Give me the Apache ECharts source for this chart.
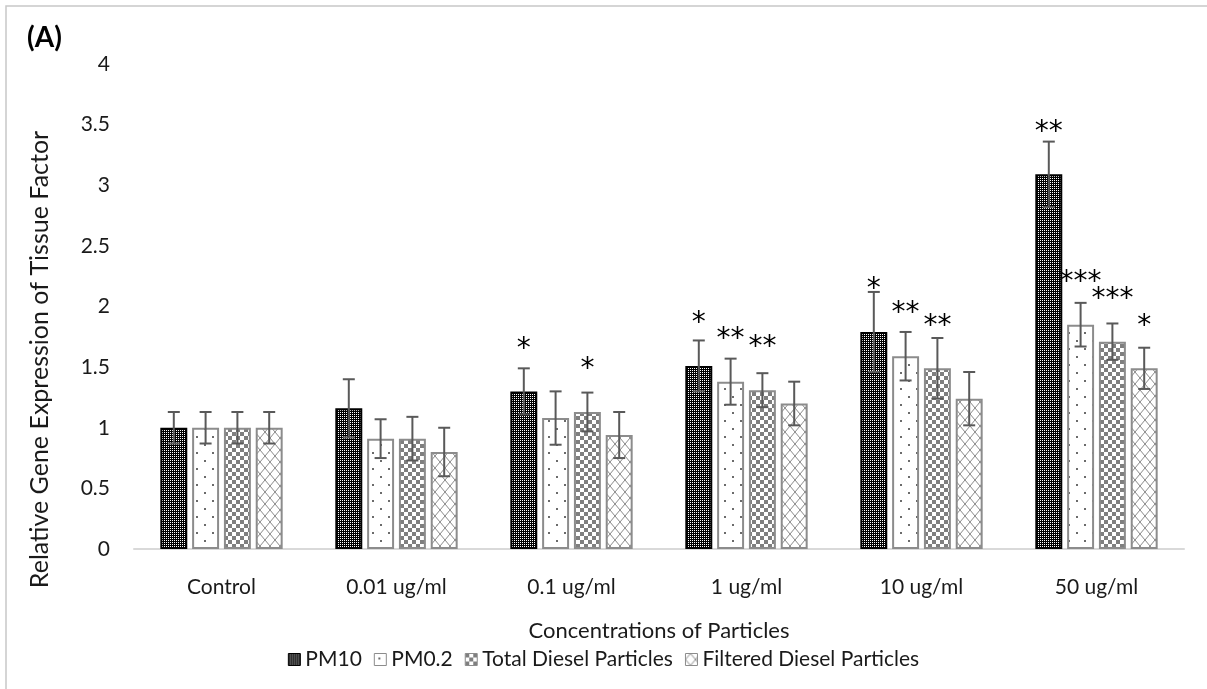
<!DOCTYPE html>
<html>
<head>
<meta charset="utf-8">
<script src="https://cdn.jsdelivr.net/npm/echarts@6/dist/echarts.min.js"></script>
<style>
  html, body { margin: 0; padding: 0; background: #fff; }
  #chart { width: 1207px; height: 689px; }
</style>
</head>
<body>
<div id="chart"></div>
<script>
// Chart data
const categories = ['Control', '0.01 ug/ml', '0.1 ug/ml', '1 ug/ml', '10 ug/ml', '50 ug/ml']
const seriesNames = ['PM10', 'PM0.2', 'Total Diesel Particles', 'Filtered Diesel Particles']
const yTicks = [0, 0.5, 1, 1.5, 2, 2.5, 3, 3.5, 4]

const pm10 = [1.0, 1.16, 1.30, 1.51, 1.79, 3.09]
const pm10Err = [0.13, 0.24, 0.19, 0.21, 0.33, 0.27]
const pm10Sig = ['', '', '*', '*', '*', '**']

const pm02 = [1.0, 0.91, 1.08, 1.38, 1.59, 1.85]
const pm02Err = [0.13, 0.16, 0.22, 0.19, 0.20, 0.18]
const pm02Sig = ['', '', '', '**', '**', '***']

const totalDiesel = [1.0, 0.91, 1.13, 1.31, 1.49, 1.71]
const totalDieselErr = [0.13, 0.18, 0.16, 0.14, 0.25, 0.15]
const totalDieselSig = ['', '', '*', '**', '**', '***']

const filteredDiesel = [1.0, 0.80, 0.94, 1.20, 1.24, 1.49]
const filteredDieselErr = [0.13, 0.20, 0.19, 0.18, 0.22, 0.17]
const filteredDieselSig = ['', '', '', '', '', '*']

const values = [pm10, pm02, totalDiesel, filteredDiesel]
const errors = [pm10Err, pm02Err, totalDieselErr, filteredDieselErr]
const stars = [pm10Sig, pm02Sig, totalDieselSig, filteredDieselSig]

const FONT = 'Lato'
const BAR_FRAC = 0.154   // bar width as part of the category band
const GAP_FRAC = 0.18    // gap between bars as part of bar width

// small canvas tiles used as fill patterns
const makePattern = (w, h, draw) => {
  const c = document.createElement('canvas')
  c.width = w
  c.height = h
  const ctx = c.getContext('2d')
  ctx.fillStyle = '#fff'
  ctx.fillRect(0, 0, w, h)
  draw(ctx)
  return { image: c, repeat: 'repeat' }
}

const patterns = [
  // dense black mesh
  makePattern(2, 2, ctx => {
    ctx.fillStyle = '#000'
    ctx.fillRect(0, 0, 2, 2)
    ctx.fillStyle = '#fff'
    ctx.fillRect(0, 0, 1, 1)
  }),
  // sparse dots
  makePattern(16, 16, ctx => {
    ctx.fillStyle = '#6b6b6b'
    ctx.fillRect(4, 4, 2, 2)
    ctx.fillRect(12, 12, 2, 2)
  }),
  // grey checkerboard
  makePattern(8, 8, ctx => {
    ctx.fillStyle = '#7f7f7f'
    ctx.fillRect(0, 0, 4, 4)
    ctx.fillRect(4, 4, 4, 4)
  }),
  // diamond lattice
  makePattern(10, 12, ctx => {
    ctx.strokeStyle = '#8a8a8a'
    ctx.lineWidth = 1
    ctx.beginPath()
    ctx.moveTo(0, 6); ctx.lineTo(5, 0); ctx.lineTo(10, 6); ctx.lineTo(5, 12); ctx.closePath()
    ctx.stroke()
  })
]
const borderColors = ['#000', '#8c8c8c', '#8c8c8c', '#8c8c8c']

const barSeries = seriesNames.map((name, i) => ({
  name: name,
  type: 'bar',
  data: values[i],
  barWidth: (BAR_FRAC * 100) + '%',
  barGap: (GAP_FRAC * 100) + '%',
  itemStyle: {
    color: patterns[i],
    borderColor: borderColors[i],
    borderWidth: 2
  },
  emphasis: { disabled: true }
}))

// error bars and significance stars
const errorSeries = seriesNames.map((name, i) => ({
  name: name + ' err',
  type: 'custom',
  z: 5,
  clip: false,
  silent: true,
  data: values[i].map((v, k) => [k, v, errors[i][k]]),
  renderItem: (params, api) => {
    const cat = api.value(0)
    const v = api.value(1)
    const e = api.value(2)
    const band = api.size([1, 0])[0]
    const bw = band * BAR_FRAC
    const gap = bw * GAP_FRAC
    const total = 4 * bw + 3 * gap
    const base = api.coord([cat, 0])
    const cx = base[0] - total / 2 + i * (bw + gap) + bw / 2
    const yHi = api.coord([cat, v + e])[1]
    const yLo = api.coord([cat, v - e])[1]
    const yBar = api.coord([cat, v])[1]
    const stroke = { stroke: '#595959', lineWidth: 2 }
    const cap = 6
    const children = [
      { type: 'line', shape: { x1: cx, y1: yHi, x2: cx, y2: yLo }, style: stroke },
      { type: 'line', shape: { x1: cx - cap, y1: yHi, x2: cx + cap, y2: yHi }, style: stroke },
      { type: 'line', shape: { x1: cx - cap, y1: yLo, x2: cx + cap, y2: yLo }, style: stroke }
    ]
    const s = stars[i][params.dataIndex]
    if (s) {
      children.push({
        type: 'text',
        style: {
          text: s,
          x: cx,
          y: yBar - 42,
          align: 'center',
          verticalAlign: 'middle',
          font: '28px "DejaVu Sans"',
          fill: '#000'
        }
      })
    }
    return { type: 'group', children: children }
  }
}))

const chart = echarts.init(document.getElementById('chart'))
chart.setOption({
  animation: false,
  textStyle: { fontFamily: FONT },
  graphic: [
    {
      type: 'polyline',
      shape: { points: [[6, 689], [6, 6], [1207, 6]] },
      style: { stroke: '#c8c8c8', lineWidth: 1.5, fill: null }
    },
    {
      type: 'text',
      left: 27,
      top: 24,
      style: { text: '(A)', font: 'bold 28px ' + FONT, fill: '#000' }
    }
  ],
  grid: { left: 134, right: 23, top: 64, bottom: 140 },
  legend: {
    data: seriesNames,
    bottom: 14,
    left: 'center',
    icon: 'rect',
    itemWidth: 12,
    itemHeight: 12,
    itemGap: 12,
    itemStyle: { borderWidth: 1 },
    textStyle: { fontFamily: FONT, fontSize: 21, color: '#1a1a1a' }
  },
  xAxis: {
    type: 'category',
    data: categories,
    name: 'Concentrations of Particles',
    nameLocation: 'middle',
    nameGap: 71,
    nameTextStyle: { fontFamily: FONT, fontSize: 22, color: '#1a1a1a' },
    axisLine: { lineStyle: { color: '#d9d9d9', width: 2 } },
    axisTick: { show: false },
    axisLabel: { margin: 28, fontFamily: FONT, fontSize: 21, color: '#1a1a1a' }
  },
  yAxis: {
    type: 'value',
    min: yTicks[0],
    max: yTicks[yTicks.length - 1],
    interval: yTicks[1] - yTicks[0],
    name: 'Relative Gene Expression of Tissue Factor',
    nameLocation: 'middle',
    nameGap: 82,
    nameTextStyle: { fontFamily: FONT, fontSize: 25, color: '#1a1a1a', padding: [0, 106, 0, 0] },
    axisLine: { show: false },
    axisTick: { show: false },
    splitLine: { show: false },
    axisLabel: { margin: 24, fontFamily: FONT, fontSize: 21, color: '#1a1a1a' }
  },
  series: [...barSeries, ...errorSeries]
})
</script>
</body>
</html>
